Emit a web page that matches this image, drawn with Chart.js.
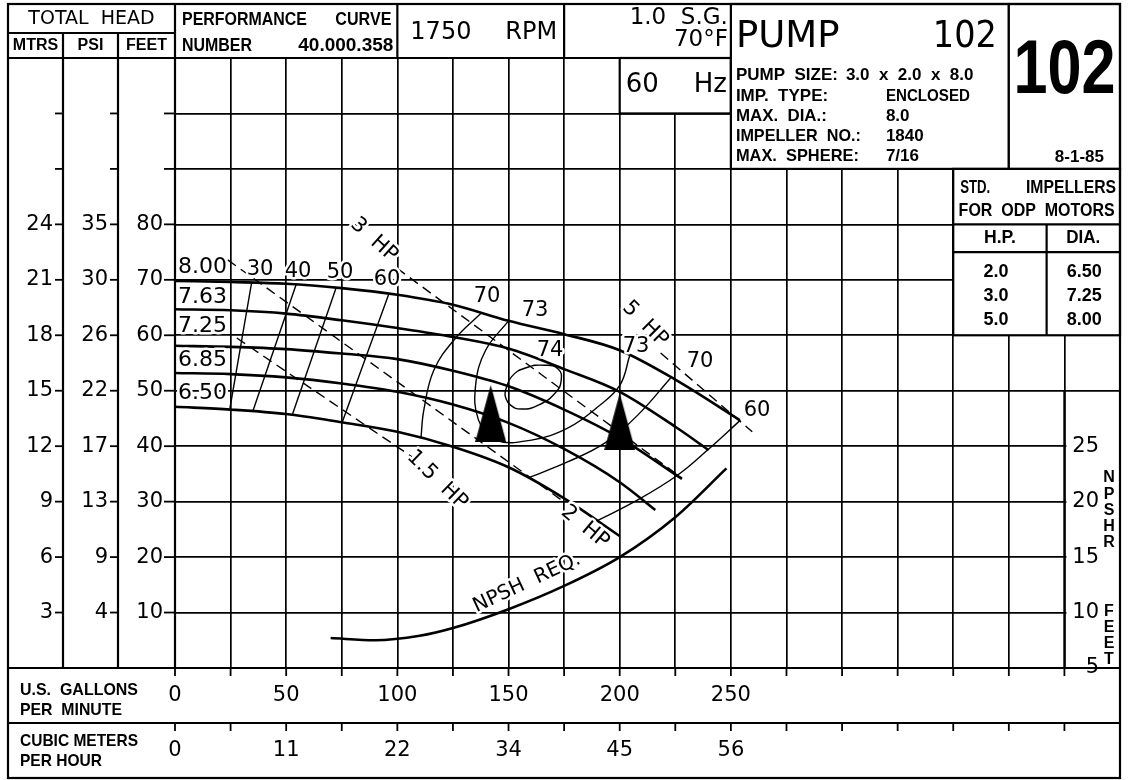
<!DOCTYPE html>
<html>
<head>
<meta charset="utf-8">
<title>Pump 102 performance curve</title>
<script src="https://cdn.jsdelivr.net/npm/chart.js@4.4.1/dist/chart.umd.min.js"></script>
<style>
  html, body { margin: 0; padding: 0; background: #fff; }
  canvas { display: block; }
</style>
</head>
<body>
<canvas id="pumpChart" width="1131" height="780"></canvas>
<script>
// flow in US GPM, head in feet
var impellerDia = ['8.00', '7.63', '7.25', '6.85', '6.50'];
var flow800 = [0, 25, 50, 75, 100, 125, 150, 175, 200, 225, 254];
var head800 = [69.8, 69.6, 69.3, 68.5, 67.3, 65.5, 62.6, 60.2, 57.3, 52.0, 44.7];
var flow763 = [0, 25, 50, 75, 100, 125, 150, 175, 200, 225, 240];
var head763 = [64.7, 64.5, 63.9, 62.7, 61.3, 59.7, 57.6, 53.9, 49.8, 43.5, 39.3];
var flow725 = [0, 25, 50, 75, 100, 125, 150, 175, 200, 228];
var head725 = [58.1, 57.9, 57.5, 56.7, 55.7, 53.6, 50.8, 46.6, 41.5, 34.1];
var flow685 = [0, 25, 50, 75, 100, 125, 150, 175, 200, 216];
var head685 = [53.2, 53.0, 52.4, 51.3, 49.8, 47.5, 44.2, 39.5, 33.5, 28.5];
var flow650 = [0, 25, 50, 75, 100, 125, 150, 175, 200];
var head650 = [47.1, 46.6, 45.8, 44.3, 42.6, 39.9, 36.2, 30.6, 23.8];

// efficiency lines (%)
var effLabels = ['30', '40', '50', '60', '70', '73', '74', '73', '70', '60'];
var eff30Flow = [34.5, 24.6];  var eff30Head = [69.6, 46.6];
var eff40Flow = [54.6, 35.0];  var eff40Head = [69.3, 46.3];
var eff50Flow = [72.5, 52.8];  var eff50Head = [68.6, 45.7];
var eff60Flow = [96.2, 75.2];  var eff60Head = [67.5, 44.3];
var eff70aFlow = [138, 126.2, 116.4, 111.9, 110.6];
var eff70aHead = [64.1, 59.5, 53.7, 46.5, 41.4];
var eff73Flow = [150, 139.7, 135.2, 136.5, 144.1, 160.3, 176.8, 190.2, 200.1, 204.6];
var eff73Head = [62.6, 57.3, 51.0, 44.7, 41.1, 41.1, 43.3, 47.1, 51.0, 56.5];
var eff74Flow = [148.6, 151.3, 157.6, 166.5, 172.3, 173.7, 171.0, 163.4, 155.8, 150.9, 148.6, 148.6];
var eff74Head = [50.1, 52.5, 54.1, 54.6, 53.9, 51.9, 49.6, 47.4, 46.7, 47.4, 48.9, 50.1];
var eff70bFlow = [158.9, 176.8, 193.4, 208.1, 222.9];
var eff70bHead = [34.3, 37.2, 40.6, 45.6, 52.3];
var eff60bFlow = [190.2, 208.1, 226.1, 239.5, 254.3];
var eff60bHead = [26.6, 30.3, 34.8, 39.3, 44.7];

// horsepower lines
var hpLabels = ['1.5  HP', '2  HP', '3  HP', '5  HP'];
var hp15Flow = [27.8, 106.5];  var hp15Head = [59.5, 38.1];
var hp2Flow = [23.7, 175.5];   var hp2Head = [73.6, 29.8];
var hp3Flow = [99.8, 227.8];   var hp3Head = [72.1, 34.3];
var hp5Flow = [218.4, 259.6];  var hp5Head = [56.8, 42.6];

// NPSH required, feet
var npshFlow = [70, 90, 110, 125, 150, 175, 200, 225, 248];
var npshReq = [7.7, 7.5, 7.9, 8.6, 10.3, 12.4, 15.0, 18.6, 23.0];

// best efficiency markers
var bepFlow = [142, 200];
var bepHead = [45.9, 44.4];

// tick labels
var gpmTicks = [0, 50, 100, 150, 200, 250];
var m3hTicks = ['0', '11', '22', '34', '45', '56'];
var feetTicks = [80, 70, 60, 50, 40, 30, 20, 10];
var mtrsTicks = ['24', '21', '18', '15', '12', '9', '6', '3'];
var psiTicks = ['35', '30', '26', '22', '17', '13', '9', '4'];
var npshTicks = [25, 20, 15, 10, 5];
var stdHp = ['2.0', '3.0', '5.0'];
var stdDia = ['6.50', '7.25', '8.00'];

var F = '"DejaVu Sans", "Liberation Sans", sans-serif';
var NB = '"Liberation Sans Narrow", "Liberation Sans", sans-serif';

function pts(xs, ys) {
  return xs.map(function (x, i) { return { x: x, y: ys[i] }; });
}

function curve(label, xs, ys, extra) {
  var d = { label: label, data: pts(xs, ys), showLine: true, pointRadius: 0,
            borderColor: '#000', borderWidth: 1.4, tension: 0.4, fill: false };
  for (var k in extra) d[k] = extra[k];
  return d;
}

function triangleMark(w, h) {
  var c = document.createElement('canvas');
  c.width = w; c.height = h;
  var g = c.getContext('2d');
  g.fillStyle = '#000';
  g.beginPath(); g.moveTo(w / 2, 0); g.lineTo(w, h); g.lineTo(0, h); g.closePath(); g.fill();
  return c;
}

function seg(ctx, x1, y1, x2, y2) {
  ctx.beginPath(); ctx.moveTo(x1, y1); ctx.lineTo(x2, y2); ctx.stroke();
}
function box(ctx, x1, y1, x2, y2) {
  ctx.fillStyle = '#fff';
  ctx.fillRect(x1, y1, x2 - x1, y2 - y1);
  ctx.strokeRect(x1, y1, x2 - x1, y2 - y1);
}
function txt(ctx, s, x, y, font, align, maxW) {
  ctx.font = font;
  ctx.textAlign = align || 'left';
  ctx.textBaseline = 'middle';
  ctx.fillStyle = '#000';
  if (maxW) ctx.fillText(s, x, y, maxW); else ctx.fillText(s, x, y);
}
function halo(ctx, s, x, y, font, align) {
  ctx.font = font;
  ctx.textAlign = align || 'center';
  ctx.textBaseline = 'middle';
  ctx.lineJoin = 'round';
  ctx.lineWidth = 5;
  ctx.strokeStyle = '#fff';
  ctx.strokeText(s, x, y);
  ctx.fillStyle = '#000';
  ctx.fillText(s, x, y);
}
function rotText(ctx, s, x, y, deg, font) {
  ctx.save();
  ctx.translate(x, y);
  ctx.rotate(deg * Math.PI / 180);
  halo(ctx, s, 0, 0, font, 'center');
  ctx.restore();
}

// frame, title blocks and axis columns of the sheet
function drawSheet(chart) {
  var ctx = chart.ctx, xs = chart.scales.x, ys = chart.scales.y, yn = chart.scales.yN;
  var X = function (v) { return xs.getPixelForValue(v); };
  var Y = function (v) { return ys.getPixelForValue(v); };
  var L = 8, T = 4, R = X(425), B = 778, mid = 33, rowY = 723;
  var c1 = 63, c2 = 118;
  ctx.save();
  ctx.strokeStyle = '#000';
  ctx.lineWidth = 2.2;

  // boxes sitting on the grid
  box(ctx, X(200), Y(110), X(250), Y(100));
  box(ctx, X(250), T, X(375), Y(90));
  box(ctx, X(375), T, R, Y(90));
  box(ctx, X(350), Y(90), R, Y(60));
  seg(ctx, X(350), Y(80), R, Y(80));
  seg(ctx, X(350), Y(75), R, Y(75));
  seg(ctx, X(392), Y(80), X(392), Y(60));
  ctx.fillStyle = '#fff';
  ctx.fillRect(X(400) + 2, Y(50) + 2, R - X(400) - 3, Y(0) - Y(50) - 3);
  seg(ctx, X(400), Y(50), X(400), Y(0));

  // frame
  ctx.strokeRect(L, T, R - L, B - T);
  seg(ctx, L, Y(110), X(250), Y(110));
  seg(ctx, L, mid, X(0), mid);
  seg(ctx, c1, mid, c1, Y(0));
  seg(ctx, c2, mid, c2, Y(0));
  seg(ctx, X(0), T, X(0), Y(0));
  seg(ctx, X(100), T, X(100), Y(110));
  seg(ctx, X(175), T, X(175), Y(110));
  seg(ctx, L, Y(0), R, Y(0));
  seg(ctx, L, rowY, R, rowY);

  // ticks
  ctx.lineWidth = 1.8;
  for (var v = 0; v <= 400; v += 25) {
    seg(ctx, X(v), Y(0), X(v), Y(0) + 8);
    seg(ctx, X(v), rowY, X(v), rowY + 8);
  }
  for (var f = 10; f <= 100; f += 10) {
    seg(ctx, c1 - 8, Y(f), c1, Y(f));
    seg(ctx, c2 - 8, Y(f), c2, Y(f));
    seg(ctx, X(0) - 11, Y(f), X(0), Y(f));
  }

  // header texts
  txt(ctx, 'TOTAL  HEAD', (L + X(0)) / 2, 19, '19px ' + F, 'center', 150);
  txt(ctx, 'MTRS', (L + c1) / 2, 46, 'bold 16px ' + NB, 'center', 46);
  txt(ctx, 'PSI', (c1 + c2) / 2, 46, 'bold 16px ' + NB, 'center', 44);
  txt(ctx, 'FEET', (c2 + X(0)) / 2, 46, 'bold 16px ' + NB, 'center', 46);
  txt(ctx, 'PERFORMANCE', X(0) + 7, 20, 'bold 19px ' + NB, 'left', 125);
  txt(ctx, 'CURVE', X(100) - 6, 20, 'bold 19px ' + NB, 'right', 56);
  txt(ctx, 'NUMBER', X(0) + 7, 46, 'bold 19px ' + NB, 'left', 70);
  txt(ctx, '40.000.358', X(100) - 4, 46, 'bold 19px ' + NB, 'right', 106);
  txt(ctx, '1750', X(100) + 13, 33, '24px ' + F, 'left', 62);
  txt(ctx, 'RPM', X(175) - 7, 33, '24px ' + F, 'right', 52);
  txt(ctx, '1.0  S.G.', X(250) - 3, 18, '23px ' + F, 'right', 110);
  txt(ctx, '70°F', X(250) - 3, 40, '23px ' + F, 'right', 62);
  txt(ctx, '60', X(200) + 6, 85, '26px ' + F, 'left');
  txt(ctx, 'Hz', X(250) - 4, 85, '26px ' + F, 'right');

  // pump block
  var px0 = X(250) + 5, px1 = X(250) + 155, pf = 'bold 17px ' + NB;
  txt(ctx, 'PUMP', px0, 37, '37px ' + F, 'left', 106);
  txt(ctx, '102', X(375) - 12, 37, '37px ' + F, 'right', 64);
  txt(ctx, 'PUMP  SIZE:', px0, 75, pf, 'left', 105);
  txt(ctx, '3.0  x  2.0  x  8.0', px1 - 40, 75, pf, 'left', 147);
  txt(ctx, 'IMP.  TYPE:', px0, 96, pf, 'left', 98);
  txt(ctx, 'ENCLOSED', px1, 96, pf, 'left', 84);
  txt(ctx, 'MAX.  DIA.:', px0, 116, pf, 'left', 91);
  txt(ctx, '8.0', px1, 116, pf, 'left', 30);
  txt(ctx, 'IMPELLER  NO.:', px0, 136, pf, 'left', 125);
  txt(ctx, '1840', px1, 136, pf, 'left', 43);
  txt(ctx, 'MAX.  SPHERE:', px0, 156, pf, 'left', 123);
  txt(ctx, '7/16', px1, 156, pf, 'left', 43);
  txt(ctx, '102', (X(375) + R) / 2, 72, 'bold 76px "Liberation Sans", sans-serif', 'center', 102);
  txt(ctx, '8-1-85', (X(375) + R) / 2 + 15, 157, pf, 'center', 64);

  // standard impeller table
  var tf = 'bold 18px ' + NB;
  txt(ctx, 'STD.', X(350) + 7, 188, tf, 'left', 30);
  txt(ctx, 'IMPELLERS', R - 4, 188, tf, 'right', 90);
  txt(ctx, 'FOR  ODP  MOTORS', (X(350) + R) / 2, 211, tf, 'center', 156);
  txt(ctx, 'H.P.', (X(350) + X(392)) / 2, 238, tf, 'center', 32);
  txt(ctx, 'DIA.', (X(392) + R) / 2, 238, tf, 'center', 34);
  stdHp.forEach(function (s, i) {
    txt(ctx, s, (X(350) + X(392)) / 2 - 4, 272 + 24 * i, tf, 'center');
    txt(ctx, stdDia[i], (X(392) + R) / 2 + 1, 272 + 24 * i, tf, 'center');
  });

  // head scales
  var nf = '21px ' + F;
  feetTicks.forEach(function (f, i) {
    txt(ctx, mtrsTicks[i], c1 - 10, Y(f), nf, 'right');
    txt(ctx, psiTicks[i], c2 - 10, Y(f), nf, 'right');
    txt(ctx, String(f), X(0) - 12, Y(f), nf, 'right');
  });

  // capacity scales
  var bf = 'bold 17px ' + NB;
  txt(ctx, 'U.S.  GALLONS', 20, 690, bf, 'left', 118);
  txt(ctx, 'PER  MINUTE', 20, 710, bf, 'left', 102);
  txt(ctx, 'CUBIC METERS', 20, 741, bf, 'left', 118);
  txt(ctx, 'PER HOUR', 20, 761, bf, 'left', 82);
  gpmTicks.forEach(function (g, i) {
    txt(ctx, String(g), X(g), 696, nf, 'center');
    txt(ctx, m3hTicks[i], X(g), 751, nf, 'center');
  });

  // NPSH scale
  npshTicks.forEach(function (n) {
    txt(ctx, String(n), R - 21, yn.getPixelForValue(n), nf, 'right');
  });
  'NPSHR'.split('').forEach(function (ch, i) {
    txt(ctx, ch, R - 11, 478 + 16.2 * i, 'bold 16px ' + NB, 'center');
  });
  'FEET'.split('').forEach(function (ch, i) {
    txt(ctx, ch, R - 11, 612 + 16 * i, 'bold 16px ' + NB, 'center');
  });
  ctx.restore();
}

// labels written on the curves
function drawPlotLabels(chart) {
  var ctx = chart.ctx;
  ctx.save();
  var lf = '22px ' + F, ef = '21px ' + F;
  var impY = [267, 297, 326, 360, 393];
  impellerDia.forEach(function (s, i) { halo(ctx, s, 178, impY[i], lf, 'left'); });
  var effPos = [[260, 270], [298, 272], [340, 273], [387, 280], [487, 297],
                [535, 311], [550, 351], [636, 347], [700, 362], [757, 411]];
  effLabels.forEach(function (s, i) { halo(ctx, s, effPos[i][0], effPos[i][1], ef, 'center'); });
  rotText(ctx, hpLabels[0], 437, 480, 44, ef);
  rotText(ctx, hpLabels[1], 585, 527, 40, ef);
  rotText(ctx, hpLabels[2], 374, 240, 42, ef);
  rotText(ctx, hpLabels[3], 645, 324, 45, ef);
  rotText(ctx, 'NPSH  REQ.', 527, 583, -25, '20px ' + F);
  ctx.restore();
}

var sheetPlugin = {
  id: 'pumpSheet',
  beforeDatasetsDraw: function (chart) { drawSheet(chart); },
  afterDatasetsDraw: function (chart) { drawPlotLabels(chart); }
};

var headStyle = { borderWidth: 2.6, tension: 0, cubicInterpolationMode: 'monotone' };
var hpStyle = { borderWidth: 1.4, tension: 0, borderDash: [10, 6] };

var datasets = [
  curve('8.00', flow800, head800, headStyle),
  curve('7.63', flow763, head763, headStyle),
  curve('7.25', flow725, head725, headStyle),
  curve('6.85', flow685, head685, headStyle),
  curve('6.50', flow650, head650, headStyle),
  curve('30%', eff30Flow, eff30Head, {}),
  curve('40%', eff40Flow, eff40Head, {}),
  curve('50%', eff50Flow, eff50Head, {}),
  curve('60%', eff60Flow, eff60Head, {}),
  curve('70%', eff70aFlow, eff70aHead, {}),
  curve('73%', eff73Flow, eff73Head, {}),
  curve('74%', eff74Flow, eff74Head, { tension: 0.5 }),
  curve('70% right', eff70bFlow, eff70bHead, {}),
  curve('60% right', eff60bFlow, eff60bHead, {}),
  curve('1.5 HP', hp15Flow, hp15Head, hpStyle),
  curve('2 HP', hp2Flow, hp2Head, hpStyle),
  curve('3 HP', hp3Flow, hp3Head, hpStyle),
  curve('5 HP', hp5Flow, hp5Head, hpStyle),
  curve('NPSH REQ.', npshFlow, npshReq, { borderWidth: 2.6, yAxisID: 'yN', cubicInterpolationMode: 'monotone' }),
  { label: 'BEP', data: pts(bepFlow, bepHead), showLine: false, pointRadius: 10,
    pointStyle: triangleMark(31, 57), backgroundColor: '#000', borderColor: '#000' }
];

var gridOpts = { color: '#000', lineWidth: 1.7, drawTicks: false };

new Chart(document.getElementById('pumpChart'), {
  type: 'scatter',
  data: { datasets: datasets },
  options: {
    responsive: false,
    animation: false,
    devicePixelRatio: 1,
    events: [],
    layout: { padding: { left: 175, right: 10, top: 58, bottom: 112 } },
    plugins: { legend: { display: false }, tooltip: { enabled: false } },
    scales: {
      x: { type: 'linear', min: 0, max: 425, ticks: { display: false, stepSize: 25 },
           grid: gridOpts, border: { display: false } },
      y: { type: 'linear', min: 0, max: 110, ticks: { display: false, stepSize: 10 },
           grid: gridOpts, border: { display: false } },
      yN: { type: 'linear', position: 'right', display: false, min: 5, max: 60 }
    }
  },
  plugins: [sheetPlugin]
});
</script>
</body>
</html>
